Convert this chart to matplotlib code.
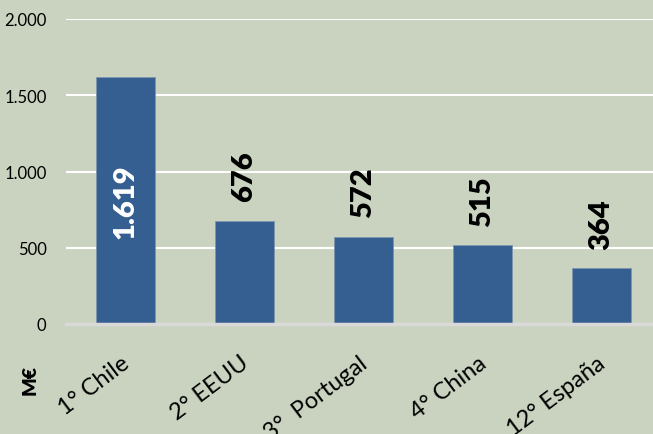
import matplotlib
matplotlib.use("Agg")
import matplotlib.pyplot as plt
from matplotlib.ticker import FuncFormatter

categories = ["1° Chile", "2° EEUU", "3°  Portugal", "4° China", "12° España"]
values = [1619, 676, 572, 515, 364]
value_labels = ["1.619", "676", "572", "515", "364"]
yticks = [0, 500, 1000, 1500, 2000]
unit_label = "M€"

bg = "#cad3c0"
bar_color = "#365f91"

plt.rcParams['font.family'] = ['Lato', 'DejaVu Sans']

fig = plt.figure(figsize=(6.53, 4.35), dpi=100, facecolor=bg)
ax = fig.add_axes([66/653, 1-325/435, (653-66)/653, (325-20)/435])
ax.set_facecolor(bg)

x = list(range(len(categories)))
ax.bar(x, values, width=0.5, color=bar_color, edgecolor="#7f95b0", linewidth=0.6, zorder=3)

ax.set_xlim(-0.5, 4.433)
ax.set_ylim(0, 2000)
ax.set_yticks(yticks)
ax.yaxis.set_major_formatter(FuncFormatter(lambda v, p: f"{int(v):,}".replace(",", ".")))
ax.grid(axis='y', color='white', linewidth=1.5, zorder=0)
ax.set_axisbelow(True)
for s in ["top", "right", "left"]:
    ax.spines[s].set_visible(False)
ax.spines["bottom"].set_color("#d9d9d9")
ax.spines["bottom"].set_linewidth(2.5)
ax.spines["bottom"].set_zorder(4)
ax.tick_params(axis='y', length=0, pad=14, labelsize=12)
ax.tick_params(axis='x', length=0)
ax.set_xticks(x)
ax.set_xticklabels([])

for xi, c in zip(x, categories):
    ax.annotate(c, xy=(xi, 0), xycoords=('data', 'axes fraction'),
                xytext=(1, -26), textcoords='offset points',
                rotation=37, rotation_mode='anchor', ha='right', va='center',
                fontsize=17, annotation_clip=False)

for i, (xi, v, lab) in enumerate(zip(x, values, value_labels)):
    if i == 0:
        ax.text(xi, v * 0.5, lab, rotation=90, ha='center', va='center',
                color='white', fontsize=21, fontweight='heavy', zorder=5)
    else:
        ax.annotate(lab, xy=(xi, v), xytext=(0, 14), textcoords='offset points',
                    rotation=90, ha='center', va='bottom', color='black',
                    fontsize=21, fontweight='heavy', zorder=5)

fig.text(30/653, 1-380/435, unit_label, rotation=90, ha='center', va='center',
         fontsize=14, fontweight='heavy')

fig.savefig("out.png", dpi=100, facecolor=bg)
